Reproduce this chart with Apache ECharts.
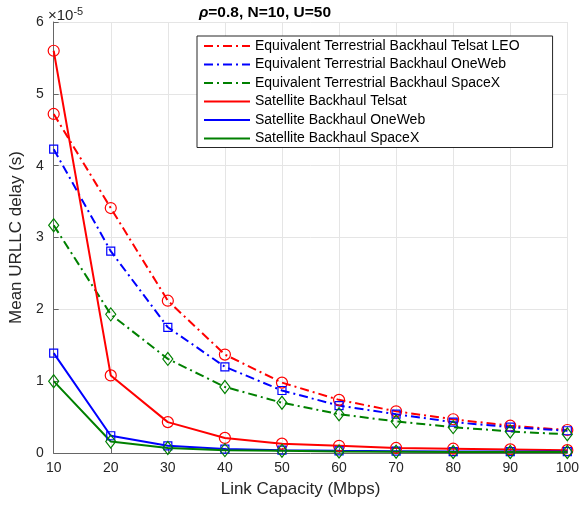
<!DOCTYPE html>
<html><head><meta charset="utf-8">
<script src="https://cdn.jsdelivr.net/npm/echarts@6/dist/echarts.min.js"></script>
<style>html,body{margin:0;padding:0;background:#fff}#c{width:582px;height:509px}</style>
</head><body><div id="c"></div>
<script>
// x values (Mbps)
const linkCapacity = [10, 20, 30, 40, 50, 60, 70, 80, 90, 100];
// y values in units of 1e-5 s
const terrTelsat  = [4.72, 3.41, 2.12, 1.37, 0.98, 0.74, 0.58, 0.47, 0.38, 0.32];
const terrOneWeb  = [4.23, 2.81, 1.75, 1.20, 0.87, 0.66, 0.54, 0.43, 0.36, 0.31];
const terrSpaceX  = [3.17, 1.93, 1.31, 0.92, 0.70, 0.54, 0.44, 0.36, 0.30, 0.26];
const satTelsat   = [5.60, 1.08, 0.43, 0.21, 0.13, 0.10, 0.07, 0.06, 0.05, 0.04];
const satOneWeb   = [1.39, 0.24, 0.10, 0.055, 0.04, 0.03, 0.025, 0.02, 0.02, 0.02];
const satSpaceX   = [1.00, 0.16, 0.07, 0.04, 0.03, 0.02, 0.018, 0.015, 0.015, 0.015];
const seriesNames = [
  'Equivalent Terrestrial Backhaul Telsat LEO',
  'Equivalent Terrestrial Backhaul OneWeb',
  'Equivalent Terrestrial Backhaul SpaceX',
  'Satellite Backhaul Telsat',
  'Satellite Backhaul OneWeb',
  'Satellite Backhaul SpaceX'
];
const yTicks = [0, 1, 2, 3, 4, 5, 6];

const RED = '#ff0000', BLUE = '#0000ff', GREEN = '#008000';
const DASHDOT = [9, 4, 2, 4];
function mk(name, data, color, symbol, dashed) {
  return {
    name: name, type: 'line',
    data: linkCapacity.map((x, i) => [x, data[i]]),
    symbol: symbol, symbolSize: symbol === 'diamond' ? [10, 13] : (symbol === 'rect' ? 8 : 11),
    showSymbol: true,
    lineStyle: { color: color, width: 2, type: dashed ? DASHDOT : 'solid' },
    itemStyle: { color: 'rgba(0,0,0,0)', borderColor: color, borderWidth: 1.2 },
    emphasis: { disabled: true },
    animation: false, z: dashed ? 2 : 3
  };
}
const chart = echarts.init(document.getElementById('c'), null, { renderer: 'canvas' });
const FONT = 'Liberation Sans, Arial, Helvetica, sans-serif';
chart.setOption({
  animation: false,
  textStyle: { fontFamily: FONT },
  title: {
    text: '{i|ρ}=0.8, N=10, U=50',
    left: 260, top: 0, textAlign: 'center',
    textStyle: { fontFamily: FONT, fontSize: 15.5, fontWeight: 'bold', color: '#000',
      rich: { i: { fontFamily: FONT, fontSize: 15.5, fontWeight: 'bold', fontStyle: 'italic', color: '#000' } } }
  },
  grid: { left: 52, right: 10, top: 22, bottom: 56, show: false },
  legend: {
    orient: 'vertical', left: 197, top: 36,
    data: seriesNames,
    itemWidth: 46, itemHeight: 14, itemGap: 4.5,
    padding: [3, 33, 2, 6],
    borderColor: '#262626', borderWidth: 1, backgroundColor: '#fff',
    textStyle: { fontFamily: FONT, fontSize: 14, color: '#000' },
    itemStyle: { opacity: 0 },
    selectedMode: false
  },
  xAxis: {
    type: 'value', min: 10, max: 100, interval: 10,
    name: 'Link Capacity (Mbps)', nameLocation: 'middle', nameGap: 28,
    nameTextStyle: { fontFamily: FONT, fontSize: 17, color: '#262626', padding: [0, 20, 0, 0] },
    axisLine: { show: true, onZero: false, lineStyle: { color: '#666', width: 1 } },
    axisTick: { show: true, inside: true, length: 5, lineStyle: { color: '#666' } },
    axisLabel: { fontFamily: FONT, fontSize: 14, color: '#262626', margin: 8 },
    splitLine: { show: true, lineStyle: { color: '#e5e5e5', width: 1 } }
  },
  yAxis: {
    type: 'value', min: 0, max: 6, interval: 1,
    name: 'Mean URLLC delay (s)', nameLocation: 'middle', nameGap: 21,
    nameTextStyle: { fontFamily: FONT, fontSize: 17, color: '#262626', padding: [0, 0, 0, 0] },
    axisLine: { show: true, onZero: false, lineStyle: { color: '#666', width: 1 } },
    axisTick: { show: true, inside: true, length: 5, lineStyle: { color: '#666' } },
    axisLabel: { fontFamily: FONT, fontSize: 14, color: '#262626', margin: 10,
      formatter: v => yTicks.includes(v) ? String(v) : '' },
    splitLine: { show: true, lineStyle: { color: '#e5e5e5', width: 1 } }
  },
  graphic: [{
    type: 'text', left: 48, top: 6,
    style: { text: '×10{s|-5}', fontFamily: FONT, fontSize: 15, fill: '#262626',
      rich: { s: { fontFamily: FONT, fontSize: 11, fill: '#262626', verticalAlign: 'top', padding: [0, 0, 8, 0] } } }
  }],
  series: [
    mk(seriesNames[0], terrTelsat, RED, 'circle', true),
    mk(seriesNames[1], terrOneWeb, BLUE, 'rect', true),
    mk(seriesNames[2], terrSpaceX, GREEN, 'diamond', true),
    mk(seriesNames[3], satTelsat, RED, 'circle', false),
    mk(seriesNames[4], satOneWeb, BLUE, 'rect', false),
    mk(seriesNames[5], satSpaceX, GREEN, 'diamond', false)
  ]
});
</script></body></html>
